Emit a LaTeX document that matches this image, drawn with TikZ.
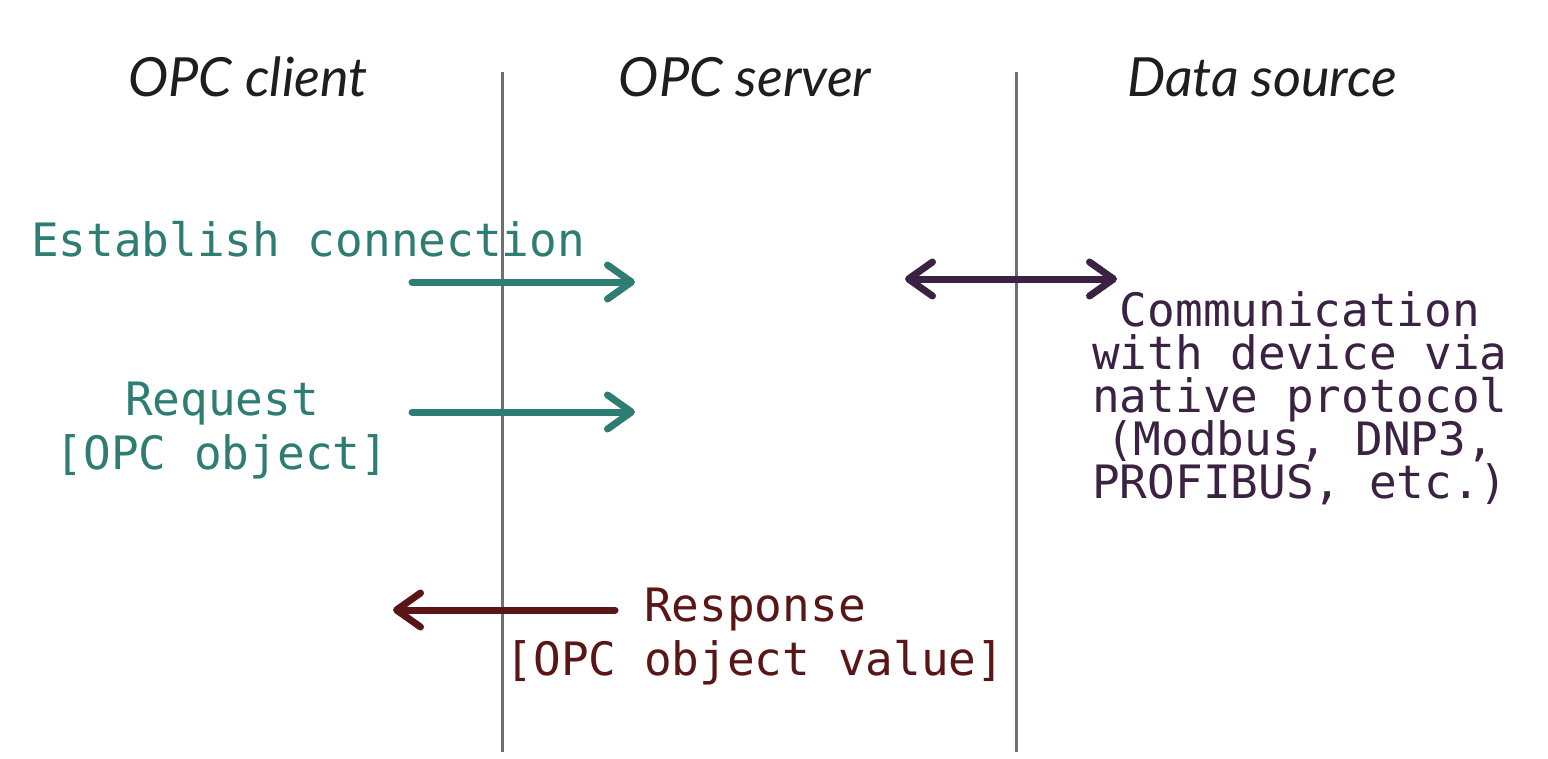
\documentclass[tikz,border=0pt]{standalone}
\usepackage{fontspec}
\setmainfont{Lato}
\setmonofont{DejaVu Sans Mono}
\usetikzlibrary{arrows.meta}
\definecolor{teal1}{HTML}{2E7D72}
\definecolor{purp1}{HTML}{3B2243}
\definecolor{dred1}{HTML}{5A1616}
\definecolor{head1}{HTML}{1E1E1E}
\definecolor{lane1}{HTML}{707070}
\newcommand\mytightlines{\lineskiplimit-100pt\relax\lineskip0pt\relax}
\tikzset{
  lane/.style={draw=lane1, line width=3pt},
  header/.style={text=head1, font=\fontsize{54}{60}\selectfont\itshape, anchor=base, inner sep=0pt},
  mono/.style={font=\fontsize{46}{54}\selectfont\ttfamily, inner sep=0pt, align=center},
  monotight/.style={font={\fontsize{46}{43}\selectfont\ttfamily\mytightlines}, inner sep=0pt, align=center},
  barb/.style={Straight Barb[length=24pt,width=34pt,round]},
  msg/.style={line width=7pt, line cap=round, -{Straight Barb[length=24pt,width=34pt,round]}},
  dmsg/.style={line width=7pt, line cap=round, {Straight Barb[length=24pt,width=34pt,round]}-{Straight Barb[length=24pt,width=34pt,round]}},
}
\begin{document}
\begin{tikzpicture}[x=1pt,y=-1pt]
\useasboundingbox[fill=white] (0,0) rectangle (1548,758);
% lanes
\coordinate (l1t) at (502,72); \coordinate (l1b) at (502,752);
\coordinate (l2t) at (1016,72); \coordinate (l2b) at (1016,752);
\draw[lane] (l1t) -- (l1b);
\draw[lane] (l2t) -- (l2b);
% headers
\node[header] (hc) at (248,96) {OPC client};
\node[header] (hs) at (745,96) {OPC server};
\node[header] (hd) at (1262,96) {Data source};
% texts
\node[mono, text=teal1, anchor=base] (est) at (308,256) {Establish connection};
\node[mono, text=teal1] (req) at (222,431) {Request\\{[}OPC object{]}};
\node[mono, text=dred1] (resp) at (755,637) {Response\\{[}OPC object value{]}};
\node[monotight, text=purp1] (comm) at (1300,398)
  {Communication\\with device via\\native protocol\\(Modbus, DNP3,\\PROFIBUS, etc.)};
% arrow endpoints
\coordinate (a1s) at (412,282); \coordinate (a1e) at (635,282);
\coordinate (a2s) at (412,412); \coordinate (a2e) at (635,412);
\coordinate (a3s) at (905,279); \coordinate (a3e) at (1117,279);
\coordinate (a4s) at (615,610); \coordinate (a4e) at (393,610);
\draw[msg, draw=teal1] (a1s) -- (a1e);
\draw[msg, draw=teal1] (a2s) -- (a2e);
\draw[dmsg, draw=purp1] (a3s) -- (a3e);
\draw[msg, draw=dred1] (a4s) -- (a4e);
\end{tikzpicture}
\end{document}
